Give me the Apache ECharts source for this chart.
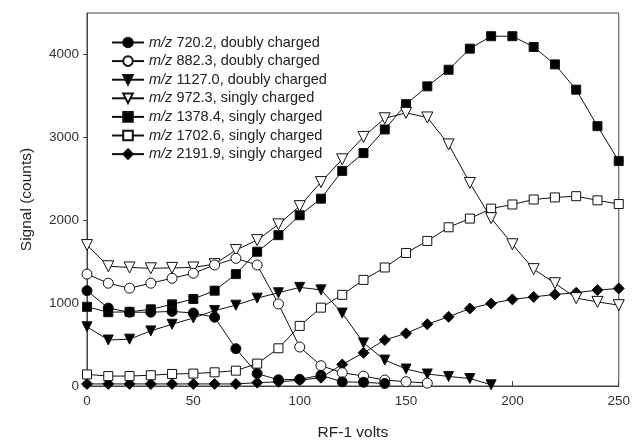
<!DOCTYPE html>
<html><head><meta charset="utf-8">
<script src="https://cdn.jsdelivr.net/npm/echarts@6/dist/echarts.min.js"></script>
<style>html,body{margin:0;padding:0;background:#fff}#c{width:633px;height:447px}</style>
</head><body><div id="c"></div>
<script>
const volts = [0,10,20,30,40,50,60,70,80,90,100,110,120,130,140,150,160,170,180,190,200,210,220,230,240,250];
const mz720 = [1150,940,890,890,900,880,830,450,150,75,80,130,50,45,30];
const mz882 = [1350,1240,1180,1240,1300,1360,1460,1540,1460,990,470,245,160,120,72,52,35];
const mz1127 = [715,555,565,665,745,820,910,975,1060,1125,1190,1160,880,520,313,205,145,115,90,15];
const mz972 = [1700,1445,1430,1420,1425,1430,1470,1640,1760,1950,2170,2460,2735,3005,3230,3295,3240,2915,2450,2025,1710,1410,1240,1060,1015,975];
const mz1378 = [955,890,895,925,985,1050,1150,1350,1620,1820,2060,2260,2595,2810,3095,3400,3615,3815,4070,4220,4220,4090,3880,3575,3135,2715];
const mz1702 = [140,120,120,130,145,150,165,185,270,455,725,945,1100,1280,1430,1605,1750,1915,2020,2140,2190,2250,2275,2290,2240,2195];
const mz2191 = [25,25,25,25,25,25,25,25,40,50,70,100,260,400,555,635,745,835,935,995,1045,1075,1105,1125,1157,1177];
const seriesNames = ['720.2, doubly charged','882.3, doubly charged','1127.0, doubly charged','972.3, singly charged','1378.4, singly charged','1702.6, singly charged','2191.9, singly charged'];
const seriesData = [mz720, mz882, mz1127, mz972, mz1378, mz1702, mz2191];
const symbols = [
  {symbol:'circle', size:10, fill:'#000', rot:0},
  {symbol:'circle', size:10, fill:'#fff', rot:0},
  {symbol:'triangle', size:10, fill:'#000', rot:180},
  {symbol:'triangle', size:11, fill:'#fff', rot:180},
  {symbol:'rect', size:9, fill:'#000', rot:0},
  {symbol:'rect', size:9, fill:'#fff', rot:0},
  {symbol:'diamond', size:11, fill:'#000', rot:0}
];
const font = 'Liberation Sans, Arial, sans-serif';
const series = seriesNames.map((n,i)=>({
  name: n,
  type: 'line',
  data: seriesData[i].map((v,j)=>[volts[j], v]),
  symbol: symbols[i].symbol,
  symbolSize: symbols[i].size,
  symbolRotate: symbols[i].rot,
  showAllSymbol: true,
  lineStyle: {color:'#111', width:1},
  itemStyle: {color: symbols[i].fill, borderColor:'#111', borderWidth:1},
  emphasis: {disabled:true},
  animation: false,
  z: 10 - i
}));
const chart = echarts.init(document.getElementById('c'));
chart.setOption({
  backgroundColor:'#fff',
  animation:false,
  grid:{left:87, right:12, top:13, bottom:61, show:true, borderColor:'#444', borderWidth:1},
  legend:{
    orient:'vertical', left:106, top:30,
    itemWidth:32, itemHeight:12, itemGap:3.6,
    data: seriesNames,
    formatter: n => '{i|m/z} ' + n,
    textStyle:{fontFamily:font, fontSize:14.5, color:'#222', rich:{i:{fontStyle:'italic', fontFamily:font, fontSize:14.5, color:'#222'}}}
  },
  xAxis:{
    type:'value', min:0, max:250, interval:50,
    name:'RF-1 volts', nameLocation:'middle', nameGap:39,
    nameTextStyle:{fontFamily:font, fontSize:15.5, color:'#222'},
    axisLine:{lineStyle:{color:'#444'}},
    axisTick:{inside:true, length:5, lineStyle:{color:'#444'}},
    axisLabel:{fontFamily:font, fontSize:13.5, color:'#333', margin:8},
    splitLine:{show:false}
  },
  yAxis:{
    type:'value', min:0, max:4500, interval:1000,
    name:'Signal (counts)', nameLocation:'middle', nameGap:52,
    nameTextStyle:{fontFamily:font, fontSize:15.5, color:'#222'},
    axisLine:{show:true, lineStyle:{color:'#444'}},
    axisTick:{show:true, inside:false, length:4, lineStyle:{color:'#444'}},
    axisLabel:{fontFamily:font, fontSize:13.5, color:'#333', margin:8, showMaxLabel:false, formatter: v => String(v)},
    splitLine:{show:false}
  },
  series: series
});
</script></body></html>
